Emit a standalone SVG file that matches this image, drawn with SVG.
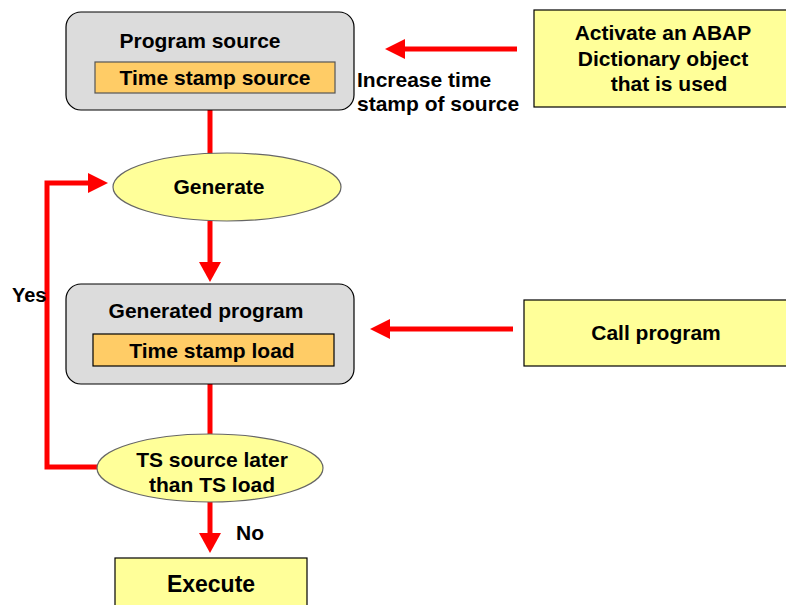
<svg xmlns="http://www.w3.org/2000/svg" width="786" height="605" viewBox="0 0 786 605">
<defs>
<style>
text{font-family:"Liberation Sans",Arial,sans-serif;font-weight:bold;font-size:21px;fill:#000}
.c{text-anchor:middle}
.gray{fill:#dcdcdc;stroke:#000;stroke-width:1.2}
.org{fill:#ffcc66;stroke:#555;stroke-width:1.2}
.yel{fill:#ffff99;stroke:#000;stroke-width:1.2}
.ell{fill:#ffff99;stroke:#666;stroke-width:1.2}
.red{fill:none;stroke:#ff0000;stroke-width:5}
.head{fill:#ff0000}
</style>
</defs>
<rect width="786" height="605" fill="#fff"/>
<g id="connectors">
<line class="red" x1="210" y1="110" x2="210" y2="156"/>
<line class="red" x1="210" y1="221" x2="210" y2="264"/>
<polygon class="head" points="199,262 221,262 210,282"/>
<line class="red" x1="210" y1="384" x2="210" y2="436"/>
<line class="red" x1="210" y1="502" x2="210" y2="535"/>
<polygon class="head" points="199,533 221,533 210,553"/>
<polyline class="red" points="99,467 47,467 47,183 90,183"/>
<polygon class="head" points="88,173 88,193 108,183"/>
<line class="red" x1="517" y1="49" x2="403" y2="49"/>
<polygon class="head" points="405,39 405,59 385,49"/>
<line class="red" x1="513" y1="329" x2="388" y2="329"/>
<polygon class="head" points="390,319 390,339 370,329"/>
</g>
<g id="program-source">
<rect class="gray" x="66" y="12" width="288" height="98" rx="15"/>
<text class="c" x="200" y="48">Program source</text>
<rect class="org" x="95" y="62" width="240" height="31"/>
<text class="c" x="215" y="85">Time stamp source</text>
</g>
<g id="increase-label">
<text x="357" y="87">Increase time</text>
<text x="357" y="111">stamp of source</text>
</g>
<g id="activate">
<rect class="yel" x="534" y="10" width="260" height="97"/>
<text class="c" x="663" y="40">Activate an ABAP</text>
<text class="c" x="663" y="66">Dictionary object</text>
<text class="c" x="669" y="91">that is used</text>
</g>
<g id="generate">
<ellipse class="ell" cx="227" cy="187" rx="114" ry="34"/>
<text class="c" x="219" y="194">Generate</text>
</g>
<g id="yes-label"><text x="12" y="302" style="font-size:20px">Yes</text></g>
<g id="generated-program">
<rect class="gray" x="66" y="284" width="288" height="100" rx="15"/>
<text class="c" x="206" y="318">Generated program</text>
<rect class="org" x="93" y="334" width="241" height="32" style="stroke:#000"/>
<text class="c" x="212" y="358">Time stamp load</text>
</g>
<g id="call-program">
<rect class="yel" x="524" y="300" width="270" height="66"/>
<text class="c" x="656" y="340">Call program</text>
</g>
<g id="ts-compare">
<ellipse class="ell" cx="210" cy="468" rx="113" ry="34"/>
<text class="c" x="212" y="467">TS source later</text>
<text class="c" x="212" y="492">than TS load</text>
</g>
<g id="no-label"><text x="236" y="540">No</text></g>
<g id="execute">
<rect class="yel" x="115" y="558" width="192" height="60"/>
<text class="c" x="211" y="592" style="font-size:23px">Execute</text>
</g>
</svg>
